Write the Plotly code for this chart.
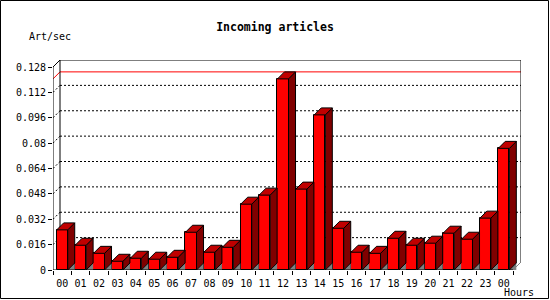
import plotly.graph_objects as go

# ---- data ----
hours = ["00", "01", "02", "03", "04", "05", "06", "07", "08", "09", "10", "11",
         "12", "13", "14", "15", "16", "17", "18", "19", "20", "21", "22", "23", "00"]
rates = [0.0253, 0.0156, 0.0105, 0.0055, 0.0074, 0.0068, 0.0080, 0.0238, 0.0112,
         0.0143, 0.0415, 0.0472, 0.1205, 0.0510, 0.0978, 0.0263, 0.0112, 0.0105,
         0.0200, 0.0156, 0.0169, 0.0232, 0.0194, 0.0327, 0.0767]
y_ticks = [0, 0.016, 0.032, 0.048, 0.064, 0.08, 0.096, 0.112, 0.128]
y_tick_text = ["0", "0.016", "0.032", "0.048", "0.064", "0.08", "0.096", "0.112", "0.128"]

# ---- geometry (pixels) ----
W, H = 550, 300
ML, MR, MT, MB = 53, 29, 60, 30
PW, PH = W - ML - MR, H - MT - MB
SLOT_PX = 460 / len(hours)
DEPTH_PX = 7
BAR_W = 0.6

x_lo = -0.5
x_hi = x_lo + PW / SLOT_PX
y_top_front = y_ticks[-1]
per_px = y_top_front / (PH - DEPTH_PX)
dx = DEPTH_PX / SLOT_PX
dy = DEPTH_PX * per_px
y_hi = y_top_front + dy
x_front_end = x_lo + len(hours)

def px2paper(px, py):
    return (px - ML) / PW, (H - MB - py) / PH

FONT = "DejaVu Sans Mono"
idx = list(range(len(hours)))

fig = go.Figure()

# front faces
fig.add_trace(go.Bar(x=idx, y=rates, width=BAR_W,
                     marker=dict(color="#ff0000", line=dict(color="black", width=1)),
                     hoverinfo="skip", showlegend=False))

# floor shadow triangles, side faces, top faces
shx, shy, sx, sy, tx, ty = [], [], [], [], [], []
for i, v in zip(idx, rates):
    x0, x1 = i - BAR_W / 2, i + BAR_W / 2
    shx += [x1, x1 + dx, x1 + dx, x1, None]
    shy += [0, dy, 0, 0, None]
    sx += [x1, x1 + dx, x1 + dx, x1, x1, None]
    sy += [0, dy, v + dy, v, 0, None]
    tx += [x0, x0 + dx, x1 + dx, x1, x0, None]
    ty += [v, v + dy, v + dy, v, v, None]

fig.add_trace(go.Scatter(x=shx, y=shy, mode="lines", fill="toself", fillcolor="#808080",
                         line=dict(width=0, color="#808080"), hoverinfo="skip", showlegend=False))
fig.add_trace(go.Scatter(x=sx, y=sy, mode="lines", fill="toself", fillcolor="#800000",
                         line=dict(width=1, color="black"), hoverinfo="skip", showlegend=False))
fig.add_trace(go.Scatter(x=tx, y=ty, mode="lines", fill="toself", fillcolor="#c00000",
                         line=dict(width=1, color="black"), hoverinfo="skip", showlegend=False))

shapes = []
dot = dict(color="black", width=1, dash="2px,2px")
for v in y_ticks[1:-1]:
    shapes.append(dict(type="line", xref="x", yref="y", x0=x_lo + dx, x1=x_hi,
                       y0=v + dy, y1=v + dy, line=dot, layer="below"))
    shapes.append(dict(type="line", xref="x", yref="y", x0=x_lo, x1=x_lo + dx,
                       y0=v, y1=v + dy, line=dot, layer="below"))

# max line
vmax = max(rates)
red = dict(color="#ff0000", width=1)
shapes.append(dict(type="line", xref="x", yref="y", x0=x_lo, x1=x_lo + dx,
                   y0=vmax, y1=vmax + dy, line=red, layer="below"))
shapes.append(dict(type="line", xref="x", yref="y", x0=x_lo + dx, x1=x_hi,
                   y0=vmax + dy, y1=vmax + dy, line=red, layer="below"))

solid = dict(color="black", width=1)
# back wall frame
shapes.append(dict(type="line", xref="x", yref="y", x0=x_lo + dx, x1=x_hi, y0=y_hi, y1=y_hi, line=solid))
shapes.append(dict(type="line", xref="x", yref="y", x0=x_hi, x1=x_hi, y0=dy, y1=y_hi, line=solid))
shapes.append(dict(type="line", xref="x", yref="y", x0=x_lo + dx, x1=x_lo + dx, y0=dy, y1=y_hi,
                   line=solid, layer="below"))
shapes.append(dict(type="line", xref="x", yref="y", x0=x_lo, x1=x_lo + dx, y0=y_top_front, y1=y_hi, line=solid))
# front axes
shapes.append(dict(type="line", xref="x", yref="y", x0=x_lo, x1=x_lo, y0=0, y1=y_top_front, line=solid))
shapes.append(dict(type="line", xref="x", yref="y", x0=x_lo, x1=x_front_end, y0=0, y1=0, line=solid))
shapes.append(dict(type="line", xref="x", yref="y", x0=x_front_end, x1=x_front_end + dx, y0=0, y1=dy,
                   line=dict(color="#808080", width=1)))
# outer border
bx0, by0 = px2paper(0.5, 298.5)
bx1, by1 = px2paper(548.5, 0.5)
shapes.append(dict(type="rect", xref="paper", yref="paper", x0=bx0, x1=bx1, y0=by0, y1=by1,
                   line=solid, fillcolor="rgba(0,0,0,0)"))

ax, ay = px2paper(50, 37)
hx, hy = px2paper(519, 292)
annotations = [
    dict(text="Art/sec", xref="paper", yref="paper", x=ax, y=ay, showarrow=False,
         xanchor="center", yanchor="middle", font=dict(family=FONT, size=10, color="black")),
    dict(text="Hours", xref="paper", yref="paper", x=hx, y=hy, showarrow=False,
         xanchor="center", yanchor="middle", font=dict(family=FONT, size=10, color="black")),
]

fig.update_layout(
    width=W, height=H,
    margin=dict(l=ML, r=MR, t=MT, b=MB, pad=0),
    paper_bgcolor="white", plot_bgcolor="white",
    title=dict(text="<b>Incoming articles</b>", xref="container", yref="container",
               x=0.5, y=1 - 27 / H, xanchor="center", yanchor="middle",
               font=dict(family=FONT, size=11.5, color="black")),
    font=dict(family=FONT, size=10, color="black"),
    shapes=shapes, annotations=annotations,
    bargap=0, showlegend=False,
    xaxis=dict(range=[x_lo, x_hi], tickmode="array", tickvals=idx, ticktext=hours,
               ticks="", ticklabelstandoff=6, showgrid=False, zeroline=False, showline=False,
               tickfont=dict(family=FONT, size=10, color="black"),
               minor=dict(tickmode="array", tickvals=[x_lo + k for k in range(len(hours) + 1)],
                          ticks="outside", ticklen=4, tickcolor="black", tickwidth=1, showgrid=False),
               fixedrange=True),
    yaxis=dict(range=[0, y_hi], tickmode="array", tickvals=y_ticks, ticktext=y_tick_text,
               ticks="outside", ticklen=4, tickcolor="black", tickwidth=1,
               showgrid=False, zeroline=False, showline=False,
               tickfont=dict(family=FONT, size=10, color="black"), fixedrange=True),
)

fig.write_html("out.html")
